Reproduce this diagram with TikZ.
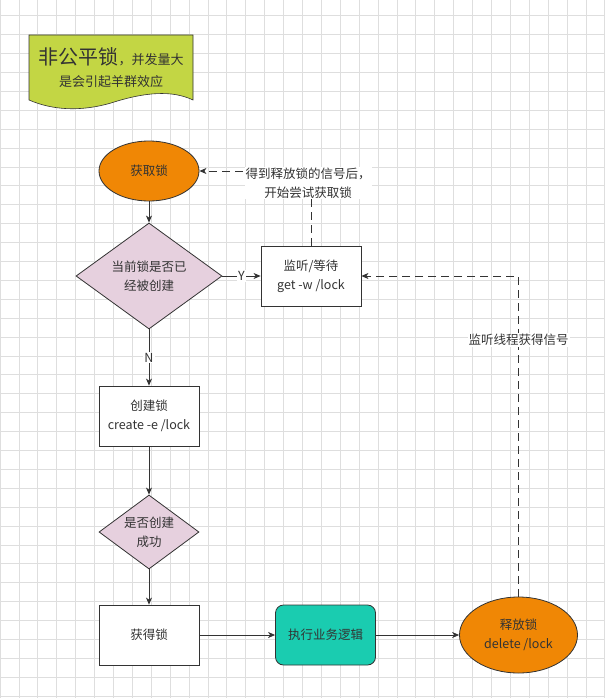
\documentclass[tikz,border=0pt]{standalone}
\usepackage{fontspec}
\setmainfont{Noto Sans CJK SC}
\usetikzlibrary{shapes.geometric,arrows.meta}

\definecolor{lineGray}{HTML}{333333}
\definecolor{gridGray}{HTML}{DEDEDE}
\definecolor{lockOrange}{HTML}{F08705}
\definecolor{askPurple}{HTML}{E6D0DE}
\definecolor{workTeal}{HTML}{1ACCB0}
\definecolor{noteLime}{HTML}{C3D644}

\tikzset{
  flow/.style={draw=lineGray, line width=0.8pt, -{Stealth[length=7pt,width=6pt,inset=2pt]}},
  signal/.style={flow, dash pattern=on 8pt off 5pt},
  box/.style={rectangle, draw=lineGray, line width=0.8pt, fill=white, minimum width=100pt, minimum height=60pt, inner sep=0pt, align=center},
  terminal/.style={ellipse, draw=lineGray, line width=0.8pt, fill=lockOrange, inner sep=0pt, align=center},
  decision/.style={diamond, draw=lineGray, line width=0.8pt, fill=askPurple, inner sep=0pt, shape aspect=1.37, align=center},
  lbl/.style={fill=white, inner sep=1pt, align=center},
}

\begin{document}
\begin{tikzpicture}[x=1pt, y=-1pt, font=\fontsize{12.5}{19}\selectfont, text=lineGray]
    \useasboundingbox (0,0) rectangle (605,698);
    \fill[white] (0,0) rectangle (605,698);

    % Background grid
    \foreach \i in {0,...,32} \draw[gridGray, line width=0.8pt] (\i*18.9,0) -- (\i*18.9,698);
    \foreach \j in {0,...,36} \draw[gridGray, line width=0.8pt] (0,15.7+\j*18.9) -- (605,15.7+\j*18.9);

    % Title note
    \draw[lineGray, line width=0.6pt, fill=noteLime] (29,35) -- (193,35) -- (193,100)
        .. controls (172,90) and (145,92) .. (111,103)
        .. controls (80,112) and (52,110) .. (29,100) -- cycle;
    \node (Title) at (111,57) {\fontsize{20}{24}\selectfont 非公平锁\fontsize{13}{16}\selectfont ，并发量大};
    \node (TitleSub) at (111,82) {\fontsize{13}{16}\selectfont 是会引起羊群效应};

    % Main flow
    \node[terminal, minimum width=100pt, minimum height=60pt] (Acquire) at (149,171) {获取锁};
    \node[decision, minimum width=146pt, minimum height=106pt] (Exists) at (149,276) {当前锁是否已\\经被创建};
    \node[box] (Watch) at (311,276) {监听/等待\\get -w /lock};
    \node[box] (Create) at (149,416) {创建锁\\create -e /lock};
    \node[decision, minimum width=100pt, minimum height=74pt] (Success) at (149,532) {是否创建\\成功};
    \node[box] (Got) at (149,635) {获得锁};
    \node[box, fill=workTeal, rounded corners=8pt] (Business) at (325.5,635) {执行业务逻辑};
    \node[terminal, minimum width=118pt, minimum height=76pt] (Release) at (518.5,635) {释放锁\\delete /lock};

    % Edges
    \draw[flow] (Acquire) -- (Exists);
    \draw[flow] (Exists) -- (Watch) node[midway, lbl] {Y};
    \draw[flow] (Exists) -- (Create) node[midway, lbl] {N};
    \draw[flow] (Create) -- (Success);
    \draw[flow] (Success) -- (Got);
    \draw[flow] (Got) -- (Business);
    \draw[flow] (Business) -- (Release);

    % Signals
    \draw[signal] (Watch.north) |- (Acquire.east)
        node[pos=0.5, lbl, yshift=-12pt, xshift=-3pt] {得到释放锁的信号后，\\开始尝试获取锁};
    \draw[signal] (Release.north) |- (Watch.east)
        node[pos=0.4, lbl] {监听线程获得信号};

\end{tikzpicture}
\end{document}
